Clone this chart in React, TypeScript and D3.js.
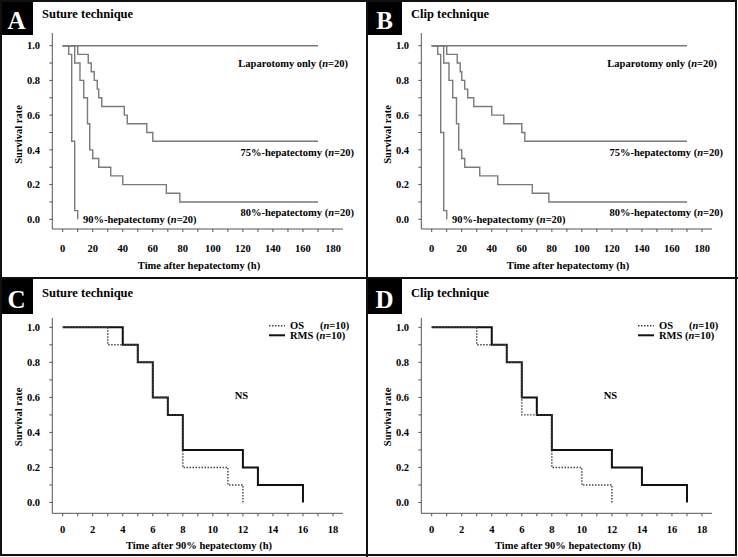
import React from "react";
import * as d3 from "d3";

const W = 738;
const H = 557;

// Panel A: suture technique, survival after hepatectomy (time h, survival rate)
const sutureLapT = [0, 170];
const sutureLapS = [1, 1];
const suture75T = [0, 10, 17, 19, 21, 23, 24, 26, 41, 43, 56, 60, 170];
const suture75S = [1, 0.95, 0.9, 0.85, 0.8, 0.75, 0.7, 0.65, 0.6, 0.55, 0.5, 0.45, 0.45];
const suture80T = [0, 8, 11.5, 14, 16.5, 18, 20, 24, 32, 40, 69, 78, 170];
const suture80S = [1, 0.9, 0.8, 0.7, 0.55, 0.4, 0.35, 0.3, 0.25, 0.2, 0.15, 0.1, 0.1];
const suture90T = [0, 4, 6, 8, 10];
const suture90S = [1, 0.95, 0.45, 0.05, 0];

// Panel B: clip technique
const clipLapT = [0, 170];
const clipLapS = [1, 1];
const clip75T = [0, 10, 17, 19, 20, 22, 24, 28, 40, 48, 60, 62, 170];
const clip75S = [1, 0.95, 0.9, 0.85, 0.8, 0.75, 0.7, 0.65, 0.6, 0.55, 0.5, 0.45, 0.45];
const clip80T = [0, 8, 11.5, 14, 16.5, 18, 20, 22, 32, 44, 67, 78, 170];
const clip80S = [1, 0.9, 0.8, 0.7, 0.55, 0.4, 0.35, 0.3, 0.25, 0.2, 0.15, 0.1, 0.1];
const clip90T = [0, 4, 6, 8, 10];
const clip90S = [1, 0.95, 0.5, 0.05, 0];

// Panel C: suture technique, after 90% hepatectomy
const sutureOsT = [0, 3, 5, 6, 7, 8, 11, 12];
const sutureOsS = [1, 0.9, 0.8, 0.6, 0.5, 0.2, 0.1, 0];
const sutureRmsT = [0, 4, 5, 6, 7, 8, 12, 13, 16];
const sutureRmsS = [1, 0.9, 0.8, 0.6, 0.5, 0.3, 0.2, 0.1, 0];

// Panel D: clip technique, after 90% hepatectomy
const clipOsT = [0, 3, 5, 6, 8, 10, 12];
const clipOsS = [1, 0.9, 0.8, 0.5, 0.2, 0.1, 0];
const clipRmsT = [0, 4, 5, 6, 7, 8, 12, 14, 17];
const clipRmsS = [1, 0.9, 0.8, 0.6, 0.5, 0.3, 0.2, 0.1, 0];

const yTicks = [0, 0.1, 0.2, 0.3, 0.4, 0.5, 0.6, 0.7, 0.8, 0.9, 1.0];
const hepLabels = ["Laparotomy only", "75%-hepatectomy", "80%-hepatectomy", "90%-hepatectomy"];
const groupLabels = ["OS", "RMS"];

const FONT = "'Liberation Serif', 'Times New Roman', serif";

const rows = {
  top: { y1: 45.7, y0: 219.3, axisY: 229, axisTop: 33, tickY: 248, titleY: 265 },
  bottom: { y1: 327.3, y0: 502.5, axisY: 513.3, axisTop: 318, tickY: 529, titleY: 545 },
};

type Curve = { t: number[]; s: number[]; stroke: string; width: number; dash?: string };

const NLabel = ({ x, y, label, n, anchor }: any) => (
  <text x={x} y={y} dy="0.35em" textAnchor={anchor} fontSize={10.5} fontWeight="bold" fontFamily={FONT}>
    {label} (<tspan fontStyle="italic">n</tspan>=
    {n})
  </text>
);

function Panel({ letter, title, ox, oy, boxX, row, curves, xMax, xMinor, xMajor, xTitle, children }: any) {
  const g = rows[row as "top" | "bottom"];
  const x = d3.scaleLinear().domain([0, xMax]).range([ox + 62.7, ox + 333]);
  const y = d3.scaleLinear().domain([0, 1]).range([g.y0, g.y1]);
  const line = d3
    .line<[number, number]>()
    .x((d) => x(d[0]))
    .y((d) => y(d[1]))
    .curve(d3.curveStepAfter);
  const xTicks = d3.range(0, xMax + 0.001, xMinor);
  const axisColor = "#555";
  const yAxisX = ox + 52.3;
  return (
    <g>
      <rect x={boxX} y={oy} width={ox + 33 - boxX} height={35} fill="#000" />
      <text x={(boxX + ox + 33) / 2} y={oy + 29} textAnchor="middle" fill="#fff" fontSize={25} fontWeight="bold" fontFamily={FONT}>
        {letter}
      </text>
      <text x={ox + 42} y={oy + 17.5} fontSize={12.5} fontWeight="bold" fontFamily={FONT}>
        {title}
      </text>
      {/* y axis */}
      <line x1={yAxisX} x2={yAxisX} y1={g.axisTop} y2={g.axisY} stroke={axisColor} />
      {yTicks.map((v, i) => (
        <g key={"y" + i}>
          <line x1={yAxisX - 3} x2={yAxisX} y1={y(v)} y2={y(v)} stroke={axisColor} />
          {i % 2 === 0 && (
            <text x={ox + 40} y={y(v)} dy="0.35em" textAnchor="end" fontSize={10.5} fontWeight="bold" fontFamily={FONT}>
              {v.toFixed(1)}
            </text>
          )}
        </g>
      ))}
      <text
        transform={`translate(${ox + 18},${(g.y0 + g.y1) / 2 + 2}) rotate(-90)`}
        dy="0.35em"
        textAnchor="middle"
        fontSize={10.5}
        fontWeight="bold"
        fontFamily={FONT}
      >
        Survival rate
      </text>
      {/* x axis */}
      <line x1={yAxisX} x2={ox + 343} y1={g.axisY} y2={g.axisY} stroke={axisColor} />
      {xTicks.map((v, i) => (
        <g key={"x" + i}>
          <line x1={x(v)} x2={x(v)} y1={g.axisY} y2={g.axisY + 3} stroke={axisColor} />
          {Math.abs(v % xMajor) < 1e-6 && (
            <text x={x(v)} y={g.tickY} dy="0.35em" textAnchor="middle" fontSize={10.5} fontWeight="bold" fontFamily={FONT}>
              {v}
            </text>
          )}
        </g>
      ))}
      <text x={ox + 199} y={g.titleY} dy="0.35em" textAnchor="middle" fontSize={10.5} fontWeight="bold" fontFamily={FONT}>
        {xTitle}
      </text>
      {curves.map((c: Curve, i: number) => (
        <path
          key={"c" + i}
          d={line(c.t.map((t, k) => [t, c.s[k]] as [number, number])) || ""}
          fill="none"
          stroke={c.stroke}
          strokeWidth={c.width}
          strokeDasharray={c.dash}
        />
      ))}
      {children}
    </g>
  );
}

function HepPanel({ letter, title, ox, boxX, data }: any) {
  const grey = "#7a7a7a";
  const curves: Curve[] = data.map((d: number[][]) => ({ t: d[0], s: d[1], stroke: grey, width: 1.4 }));
  return (
    <Panel
      letter={letter}
      title={title}
      ox={ox}
      oy={0}
      boxX={boxX}
      row="top"
      curves={curves}
      xMax={180}
      xMinor={10}
      xMajor={20}
      xTitle="Time after hepatectomy (h)"
    >
      <NLabel x={ox + 348} y={63} label={hepLabels[0]} n={20} anchor="end" />
      <NLabel x={ox + 354} y={152.7} label={hepLabels[1]} n={20} anchor="end" />
      <NLabel x={ox + 354} y={212} label={hepLabels[2]} n={20} anchor="end" />
      <NLabel x={ox + 83} y={219} label={hepLabels[3]} n={20} anchor="start" />
    </Panel>
  );
}

function GroupPanel({ letter, title, ox, boxX, os, rms }: any) {
  const oy = 279;
  const curves: Curve[] = [
    { t: rms[0], s: rms[1], stroke: "#111", width: 2 },
    { t: os[0], s: os[1], stroke: "#444", width: 1.4, dash: "1.5,1.5" },
  ];
  const lx = ox + 269;
  return (
    <Panel
      letter={letter}
      title={title}
      ox={ox}
      oy={oy}
      boxX={boxX}
      row="bottom"
      curves={curves}
      xMax={18}
      xMinor={1}
      xMajor={2}
      xTitle="Time after 90% hepatectomy (h)"
    >
      <line x1={lx} x2={lx + 16} y1={325.7} y2={325.7} stroke="#444" strokeWidth={1.4} strokeDasharray="1.5,1.5" />
      <line x1={lx} x2={lx + 16} y1={335.3} y2={335.3} stroke="#111" strokeWidth={2} />
      <text x={ox + 290} y={325.7} dy="0.35em" fontSize={10.5} fontWeight="bold" fontFamily={FONT}>
        {groupLabels[0]}
      </text>
      <text x={ox + 320} y={325.7} dy="0.35em" fontSize={10.5} fontWeight="bold" fontFamily={FONT}>
        (<tspan fontStyle="italic">n</tspan>=10)
      </text>
      <NLabel x={ox + 290} y={335.3} label={groupLabels[1]} n={10} anchor="start" />
      <text x={ox + 241.5} y={395.3} dy="0.35em" textAnchor="middle" fontSize={10.5} fontWeight="bold" fontFamily={FONT}>
        NS
      </text>
    </Panel>
  );
}

export default function App() {
  return (
    <svg width={W} height={H} style={{ position: "absolute", left: 0, top: 0, background: "#fff" }}>
      <rect x={0} y={0} width={W} height={H} fill="#fff" />
      <HepPanel
        letter="A"
        title="Suture technique"
        ox={0}
        boxX={0}
        data={[
          [sutureLapT, sutureLapS],
          [suture75T, suture75S],
          [suture80T, suture80S],
          [suture90T, suture90S],
        ]}
      />
      <HepPanel
        letter="B"
        title="Clip technique"
        ox={369}
        boxX={367}
        data={[
          [clipLapT, clipLapS],
          [clip75T, clip75S],
          [clip80T, clip80S],
          [clip90T, clip90S],
        ]}
      />
      <GroupPanel letter="C" title="Suture technique" ox={0} boxX={0} os={[sutureOsT, sutureOsS]} rms={[sutureRmsT, sutureRmsS]} />
      <GroupPanel letter="D" title="Clip technique" ox={369} boxX={367} os={[clipOsT, clipOsS]} rms={[clipRmsT, clipRmsS]} />
      {/* frame and dividers */}
      <rect x={1} y={1} width={735} height={554} fill="none" stroke="#111" strokeWidth={2} />
      <line x1={367} x2={367} y1={0} y2={H} stroke="#111" strokeWidth={2} />
      <line x1={0} x2={W} y1={278} y2={278} stroke="#111" strokeWidth={2} />
    </svg>
  );
}
